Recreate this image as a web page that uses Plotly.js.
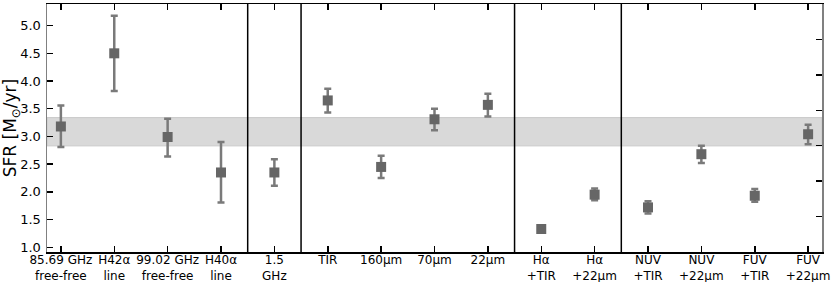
<!DOCTYPE html>
<html>
<head>
<meta charset="utf-8">
<script src="https://cdn.plot.ly/plotly-3.0.1.min.js"></script>
<style>
  html, body { margin: 0; padding: 0; background: #fff; }
  #chart { width: 831px; height: 282px; }
</style>
</head>
<body>
<div id="chart"></div>
<script>
var tracers = ['85.69 GHz<br>free-free', 'H42\u03b1<br>line', '99.02 GHz<br>free-free', 'H40\u03b1<br>line',
               '1.5<br>GHz', 'TIR', '160\u00b5m', '70\u00b5m', '22\u00b5m',
               'H\u03b1<br>+TIR', 'H\u03b1<br>+22\u00b5m',
               'NUV<br>+TIR', 'NUV<br>+22\u00b5m', 'FUV<br>+TIR', 'FUV<br>+22\u00b5m'];
var sfr      = [3.18, 4.50, 2.99, 2.35, 2.35, 3.65, 2.45, 3.31, 3.57, 1.33, 1.95, 1.72, 2.68, 1.93, 3.04];
var errPlus  = [0.38, 0.68, 0.33, 0.55, 0.24, 0.21, 0.20, 0.19, 0.20, 0.03, 0.11, 0.11, 0.15, 0.12, 0.17];
var errMinus = [0.37, 0.68, 0.35, 0.54, 0.24, 0.22, 0.20, 0.20, 0.21, 0.03, 0.10, 0.11, 0.16, 0.11, 0.18];
var bandLow = 2.83, bandHigh = 3.34;
var groupDividers = [3.5, 4.5, 8.5, 10.5];

var font = 'DejaVu Sans, sans-serif';

var trace1 = {
  x: tracers,
  y: sfr,
  type: 'scatter',
  mode: 'markers',
  marker: { symbol: 'square', size: 10, color: 'rgb(102,102,102)' },
  error_y: {
    type: 'data', symmetric: false,
    array: errPlus, arrayminus: errMinus,
    color: 'rgb(122,122,122)', thickness: 2.5, width: 3.5
  },
  showlegend: false,
  hoverinfo: 'x+y'
};

// empty trace so the right-hand tick axis is drawn
var trace2 = { x: [], y: [], yaxis: 'y2', type: 'scatter', mode: 'markers',
               showlegend: false, hoverinfo: 'skip' };

var shapes = [{
  type: 'rect', xref: 'paper', yref: 'y', x0: 0, x1: 1, y0: bandLow, y1: bandHigh,
  fillcolor: 'rgb(217,217,217)', line: { color: 'rgb(200,200,200)', width: 1 }, layer: 'below'
}];
groupDividers.forEach(function (d) {
  shapes.push({ type: 'line', xref: 'x', yref: 'paper', x0: d, x1: d, y0: 0, y1: 1,
                line: { color: 'black', width: 1.5 } });
});

var layout = {
  width: 831, height: 282,
  margin: { l: 47, r: 9, t: 4, b: 30 },
  paper_bgcolor: 'white', plot_bgcolor: 'white',
  font: { family: font, size: 13, color: 'black' },
  xaxis: {
    type: 'category',
    range: [-0.26, 14.26],
    showgrid: false, zeroline: false,
    showline: true, linecolor: 'black', linewidth: 1.5, mirror: 'ticks',
    ticks: 'inside', ticklen: 6, tickwidth: 1.5, tickcolor: 'black',
    ticklabelstandoff: -4,
    tickfont: { family: font, size: 12, color: 'black' }
  },
  yaxis: {
    range: [0.915, 5.39],
    tickvals: [1, 1.5, 2, 2.5, 3, 3.5, 4, 4.5, 5],
    tickformat: '.1f',
    showgrid: false, zeroline: false,
    showline: true, linecolor: 'rgb(128,128,128)', linewidth: 1.5,
    ticks: 'inside', ticklen: 6, tickwidth: 1.5, tickcolor: 'black',
    ticklabelstandoff: 2,
    tickfont: { family: font, size: 13, color: 'black' },
    title: { text: 'SFR [M<sub>\u2299</sub>/yr]', font: { family: font, size: 17, color: 'black' }, standoff: 1 }
  },
  yaxis2: {
    overlaying: 'y', side: 'right',
    range: [0, 7], tickvals: [0, 1, 2, 3, 4, 5, 6, 7],
    showticklabels: false, showgrid: false, zeroline: false,
    showline: true, linecolor: 'rgb(128,128,128)', linewidth: 1.5,
    ticks: 'inside', ticklen: 6, tickwidth: 1.5, tickcolor: 'black'
  },
  shapes: shapes
};

Plotly.newPlot('chart', [trace1, trace2], layout, { displayModeBar: false, staticPlot: true });
</script>
</body>
</html>
